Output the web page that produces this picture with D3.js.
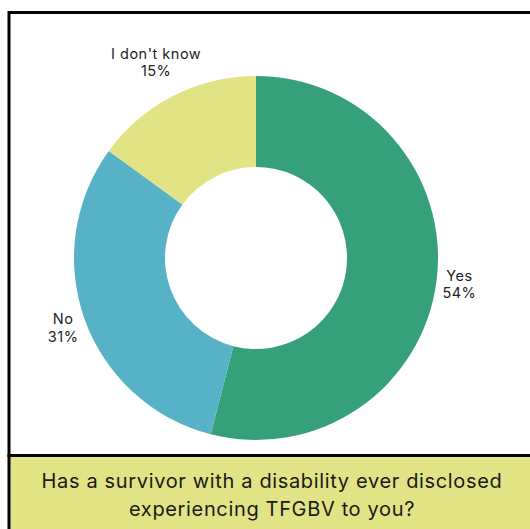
<!DOCTYPE html>
<html><head><meta charset="utf-8">
<script src="https://cdn.jsdelivr.net/npm/d3@7"></script>
<style>html,body{margin:0;padding:0;background:#fff;}svg{display:block;}</style>
</head><body>
<svg id="c" width="530" height="529"></svg>
<script>
const categories = ["Yes", "No", "I don't know"];
const values = [54, 31, 15];
const colors = ["#35a07a", "#58b2c7", "#e2e384"];
const captionLines = ["Has a survivor with a disability ever disclosed", "experiencing TFGBV to you?"];

const W = 530, H = 529;
const svg = d3.select("#c");
const font = "Inter, 'Open Sans', sans-serif";

// frame
svg.append("rect").attr("x", 9).attr("y", 12.5).attr("width", 540).attr("height", 443)
  .attr("fill", "#fff").attr("stroke", "#000").attr("stroke-width", 3);
// caption box
svg.append("rect").attr("x", 9).attr("y", 455.5).attr("width", 540).attr("height", 100)
  .attr("fill", "#e2e384").attr("stroke", "#000").attr("stroke-width", 3);

const cx = 256, cy = 258, rOuter = 182, rInner = 91;
const pie = d3.pie().sort(null).value(d => d);
const arcs = pie(values);
const arc = d3.arc().innerRadius(rInner).outerRadius(rOuter);
const g = svg.append("g").attr("transform", `translate(${cx},${cy})`);
g.selectAll("path").data(arcs).join("path")
  .attr("d", arc).attr("fill", (d, i) => colors[i]);

const fmt = d3.format(".0%");
const total = d3.sum(values);
arcs.forEach((d, i) => {
  const a = (d.startAngle + d.endAngle) / 2;
  const r = d.value / total < 0.2 ? 220 : 205;
  const x = r * Math.sin(a), y = -r * Math.cos(a);
  const t = g.append("text").attr("text-anchor", "middle")
    .attr("font-family", font).attr("font-size", 14.5).attr("letter-spacing", 0.5).attr("fill", "#222");
  t.append("tspan").attr("x", x).attr("y", y - 3).text(categories[i]);
  t.append("tspan").attr("x", x).attr("y", y + 14.5).text(fmt(d.value / total));
});

const cap = svg.append("text").attr("text-anchor", "middle")
  .attr("font-family", font).attr("font-size", 20).attr("letter-spacing", 0.65).attr("fill", "#1a1a1a");
captionLines.forEach((l, i) => {
  cap.append("tspan").attr("x", 272).attr("y", 488 + i * 28).text(l);
});
</script>
</body></html>
